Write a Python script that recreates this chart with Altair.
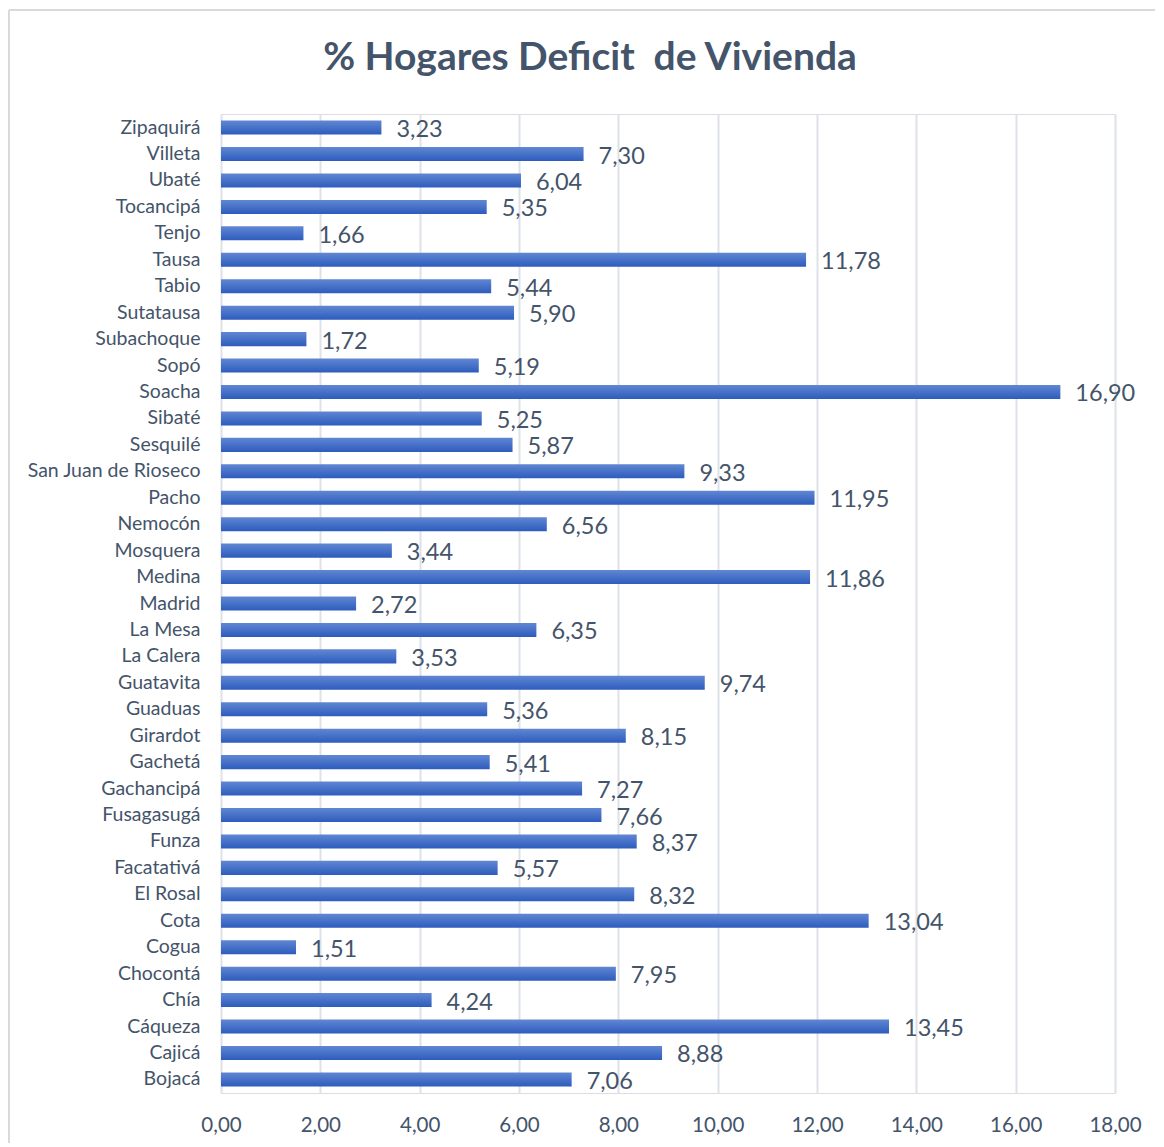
import altair as alt
import pandas as pd

municipios = ["Zipaquirá", "Villeta", "Ubaté", "Tocancipá", "Tenjo", "Tausa", "Tabio",
              "Sutatausa", "Subachoque", "Sopó", "Soacha", "Sibaté", "Sesquilé",
              "San Juan de Rioseco", "Pacho", "Nemocón", "Mosquera", "Medina", "Madrid",
              "La Mesa", "La Calera", "Guatavita", "Guaduas", "Girardot", "Gachetá",
              "Gachancipá", "Fusagasugá", "Funza", "Facatativá", "El Rosal", "Cota",
              "Cogua", "Chocontá", "Chía", "Cáqueza", "Cajicá", "Bojacá"]
valores = [3.23, 7.30, 6.04, 5.35, 1.66, 11.78, 5.44,
           5.90, 1.72, 5.19, 16.90, 5.25, 5.87,
           9.33, 11.95, 6.56, 3.44, 11.86, 2.72,
           6.35, 3.53, 9.74, 5.36, 8.15, 5.41,
           7.27, 7.66, 8.37, 5.57, 8.32, 13.04,
           1.51, 7.95, 4.24, 13.45, 8.88, 7.06]
x_ticks = [0, 2, 4, 6, 8, 10, 12, 14, 16, 18]
titulo = "% Hogares Deficit\u00a0 de Vivienda"

df = pd.DataFrame({"municipio": municipios, "valor": valores})

FONT = "Lato"
TXT = "#44546A"

y_enc = alt.Y("municipio:N", sort=municipios, title=None,
              scale=alt.Scale(paddingInner=0.47, paddingOuter=0.25),
              axis=alt.Axis(labelFont=FONT, labelFontSize=19.5, labelColor=TXT,
                            labelPadding=21, ticks=False, domain=False, grid=False))
x_enc = alt.X("valor:Q", title=None,
              scale=alt.Scale(domain=[0, 18], nice=False),
              axis=alt.Axis(values=x_ticks, labelFont=FONT, labelFontSize=20.5,
                            labelColor=TXT, labelPadding=22, ticks=False, domain=False,
                            labelFlush=False,
                            grid=True, gridColor="#DDE1E8", gridWidth=2,
                            labelExpr="replace(format(datum.value, '.2f'), '.', ',')"))

frame = alt.Chart(df).mark_rect(filled=False, stroke="#D9D9D9", strokeWidth=1).encode(
    x=alt.value(-212), x2=alt.value(1200), y=alt.value(-104), y2=alt.value(1200)
)

title_mark = alt.Chart(pd.DataFrame({"t": [titulo]})).mark_text(
    font=FONT, fontSize=39, fontWeight="bold", color=TXT, align="center",
    baseline="middle"
).encode(x=alt.value(369), y=alt.value(-56), text="t:N")

bars = alt.Chart(df).mark_bar(
    color=alt.Gradient(gradient="linear",
                       stops=[alt.GradientStop(color="#6187D3", offset=0),
                              alt.GradientStop(color="#2D5CBD", offset=1)],
                       x1=0, x2=0, y1=0, y2=1)
).encode(x=x_enc, y=y_enc)

labels = alt.Chart(df).transform_calculate(
    etiqueta="replace(format(datum.valor, '.2f'), '.', ',')"
).mark_text(align="left", baseline="middle", dx=15, dy=2.5, font=FONT,
            fontSize=23.5, color=TXT).encode(
    x="valor:Q", y=alt.Y("municipio:N", sort=municipios), text="etiqueta:N"
)

chart = alt.layer(frame, title_mark, bars, labels).properties(
    width=894, height=979,
    padding={"left": 213, "top": 106, "right": 40, "bottom": 50},
    autosize=alt.AutoSizeParams(type="none"),
).configure_view(stroke=None).configure(background="white")

chart.save("out.html", embed_options={"renderer": "svg", "actions": False})
